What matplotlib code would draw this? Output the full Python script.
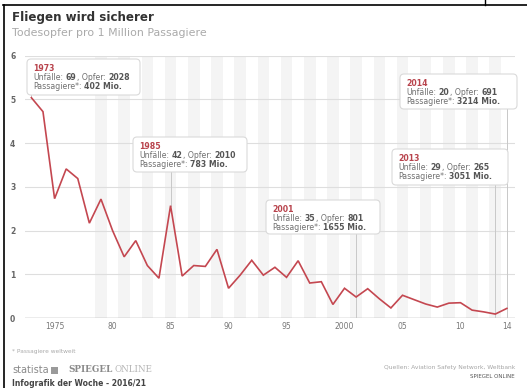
import matplotlib
matplotlib.use("Agg")
import matplotlib.pyplot as plt
from matplotlib.patches import FancyBboxPatch, Rectangle
from matplotlib.lines import Line2D
from matplotlib.transforms import IdentityTransform

# ---------------- data ----------------
years = list(range(1973, 2015))
deaths_per_million = [
    5.04, 4.72, 2.73, 3.41, 3.19, 2.17, 2.72, 2.00, 1.40, 1.77,
    1.20, 0.91, 2.57, 0.96, 1.20, 1.18, 1.57, 0.68, 0.98, 1.32,
    0.98, 1.16, 0.93, 1.31, 0.80, 0.83, 0.31, 0.68, 0.48, 0.67,
    0.44, 0.23, 0.52, 0.42, 0.32, 0.25, 0.34, 0.35, 0.18, 0.14,
    0.09, 0.22,
]
x_ticks = [1975, 1980, 1985, 1990, 1995, 2000, 2005, 2010, 2014]
x_tick_labels = ["1975", "80", "85", "90", "95", "2000", "05", "10", "14"]
y_ticks = [0, 1, 2, 3, 4, 5, 6]

ann_years = [1973, 1985, 2001, 2013, 2014]
ann_unfaelle = [69, 42, 35, 29, 20]
ann_opfer = [2028, 2010, 801, 265, 691]
ann_passagiere = [402, 783, 1655, 3051, 3214]

title = "Fliegen wird sicherer"
subtitle = "Todesopfer pro 1 Million Passagiere"
footnote = "* Passagiere weltweit"
source = "Quellen: Aviation Safety Network, Weltbank"
infografik = "Infografik der Woche - 2016/21"

# ---------------- layout ----------------
W, H = 527, 388
fig = plt.figure(figsize=(W / 100, H / 100), dpi=100)
fig.patch.set_facecolor("white")

y0_px, y6_px = 318.0, 55.7
ax = fig.add_axes([25 / W, 1 - y0_px / H, 490 / W, (y0_px - y6_px) / H])
ax.set_xlim(1972.45, 2014.7)
ax.set_ylim(0, 6)
px_per_unit = (y0_px - y6_px) / 6

for s in ax.spines.values():
    s.set_visible(False)

# faint vertical year stripes
for yr in years:
    if yr % 2 == 1 and yr >= 1979:
        ax.axvspan(yr - 0.5, yr + 0.5, color="#f4f4f4", zorder=0, lw=0)

ax.set_yticks(y_ticks)
ax.set_yticklabels([str(v) for v in y_ticks])
ax.set_xticks(x_ticks)
ax.set_xticklabels(x_tick_labels)
ax.tick_params(axis="both", length=0)
ax.tick_params(axis="y", pad=7, labelsize=5.5, labelcolor="#666666")
ax.tick_params(axis="x", pad=3, labelsize=5.5, labelcolor="#777777")
for lab in ax.get_yticklabels():
    lab.set_fontweight("bold")
ax.grid(axis="y", color="#dedede", lw=0.8, zorder=1)
ax.grid(axis="x", visible=False)
ax.axhline(0, color="#a8a8a8", lw=1.0, zorder=2)

red = "#c44750"
ax.plot(years, deaths_per_million, color=red, lw=1.2, zorder=5,
        solid_joinstyle="miter")

# ---------------- annotation boxes ----------------
# box geometry in pixels (left, top, right, bottom); connector goes down to "to"
box_px = {
    1973: (27, 59, 140, 95, "point"),
    1985: (133, 137, 247, 172, "point"),
    2001: (266, 200, 380, 234, "base"),
    2013: (392, 149, 508, 185, "base"),
    2014: (400, 74, 517, 109, "base"),
}

fig.canvas.draw()
renderer = fig.canvas.get_renderer()
FS = 5.6
SP = 2.3


def draw_runs(x, y, runs, fs=FS, family=None):
    for txt, bold, col in runs:
        if txt.startswith(" "):
            x += SP * fs / FS
            txt = txt[1:]
        kw = {}
        if family:
            kw["family"] = family
        t = fig.text(x, H - y, txt, transform=IdentityTransform(),
                     fontsize=fs, fontweight="bold" if bold else "normal",
                     color=col, va="center", ha="left", zorder=20, **kw)
        bb = t.get_window_extent(renderer)
        x = bb.x1 + 0.3
    return x


for yr, unf, opf, pas in zip(ann_years, ann_unfaelle, ann_opfer, ann_passagiere):
    l, t_, r, b, to = box_px[yr]
    val = deaths_per_million[years.index(yr)]
    y_box_bottom = (y0_px - b) / px_per_unit
    y_end = val if to == "point" else 0
    ax.plot([yr, yr], [y_end, y_box_bottom], color="#c8c8c8", lw=0.7, zorder=3)
    patch = FancyBboxPatch((l, H - b), r - l, b - t_, transform=IdentityTransform(),
                           boxstyle="round,pad=0,rounding_size=4",
                           fc="white", ec="#dadada", lw=0.8, zorder=15)
    fig.add_artist(patch)
    tx = l + 6
    draw_runs(tx, t_ + 9.5, [(str(yr), True, "#b8434c")])
    draw_runs(tx, t_ + 18.5, [("Unfälle:", False, "#707070"), (" " + str(unf), True, "#555555"),
                              (", Opfer:", False, "#707070"), (" " + str(opf), True, "#555555")])
    draw_runs(tx, t_ + 27.5, [("Passagiere*:", False, "#707070"),
                              (" " + str(pas) + " Mio.", True, "#555555")])

# ---------------- titles ----------------
fig.text(12 / W, 1 - 18 / H, title, fontsize=8.6, fontweight="bold", color="#333333",
         va="center", ha="left")
fig.text(12 / W, 1 - 33 / H, subtitle, fontsize=7.9, color="#aaaaaa",
         va="center", ha="left")

# ---------------- footer ----------------
fig.text(12 / W, 1 - 351 / H, footnote, fontsize=4.2, color="#aaaaaa", va="center")
xe = draw_runs(12, 370, [("statista", False, "#8a8a8a")], fs=7)
fig.add_artist(Rectangle((xe + 2, H - 374), 7, 7, transform=IdentityTransform(),
                         fc="#9a9a9a", ec="none"))
xs = draw_runs(68, 370, [("SPIEGEL", True, "#8a8a8a")], fs=6.3, family="DejaVu Serif")
draw_runs(xs + 2, 370, [("ONLINE", False, "#b5b5b5")], fs=6.3, family="DejaVu Serif")
fig.text(12 / W, 1 - 383 / H, infografik, fontsize=5.5, color="#444444", va="center",
         fontweight="bold")
fig.text(515 / W, 1 - 368 / H, source, fontsize=4.3, color="#a5a5a5", va="center",
         ha="right")
fig.text(515 / W, 1 - 377 / H, "SPIEGEL ONLINE", fontsize=4.0, color="#555555",
         va="center", ha="right")

# ---------------- scan frame ----------------
fig.add_artist(Line2D([3, W], [H - 5, H - 5], transform=IdentityTransform(),
                      color="black", lw=1.2))
fig.add_artist(Line2D([3.5, 3.5], [0, H - 5], transform=IdentityTransform(),
                      color="black", lw=1.2))
fig.add_artist(Line2D([485, 485], [H - 5, H], transform=IdentityTransform(),
                      color="black", lw=1.0))

fig.savefig("out.png", dpi=100)
